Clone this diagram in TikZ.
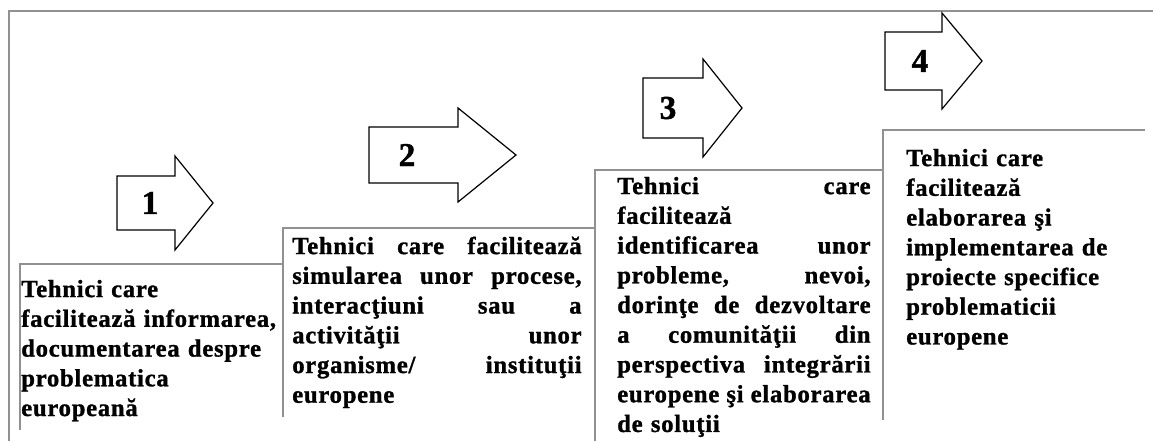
\documentclass[tikz,border=0pt]{standalone}
\usepackage{fontspec}
\setmainfont{Liberation Serif}[LetterSpace=3,BoldFont={Liberation Serif Bold},
  BoldFeatures={FakeBold=1.2}]
\usepackage{tikz}

\definecolor{gri}{RGB}{145,145,145}
% rand justificat pe toata latimea casetei
\newcommand{\jl}[1]{\leavevmode\hbox to \hsize{\spaceskip=0.25em plus 3em minus 0.05em #1}}

\begin{document}
\begin{tikzpicture}[x=0.75pt,y=-0.75pt,
  cadru/.style={draw=gri,line width=2pt},
  flecha/.style={draw=black,line width=0.9pt,fill=white,line join=miter},
  numar/.style={inner sep=0pt,font=\fontsize{25pt}{28pt}\selectfont\bfseries},
  caseta/.style={anchor=north west,inner sep=0pt,align=left,
    font=\fontsize{18.5pt}{22.3pt}\selectfont\bfseries}]
\useasboundingbox (0,0) rectangle (1153,441);

%cadrul exterior (doar sus si stanga)
\draw [cadru] (1153,11) -- (9,11) -- (9,441);

%treptele: linia de sus si linia din stanga a fiecarei casete
\draw [cadru] (283,264) -- (20,264) -- (20,430);
\draw [cadru] (595,228) -- (283,228) -- (283,417);
\draw [cadru] (883,170) -- (595,170) -- (595,441);
\draw [cadru] (1145,130) -- (883,130) -- (883,420);

%sagetile cu numerele lor
\foreach \n/\xa/\xb/\xt/\yc/\hb/\hh/\xn in {1/117/175/213/203/27/47/150,
    2/369/458/516/155/28/47/407, 3/643/703/742/108/30/49/668,
    4/885/942/982/61/29/48/920}
{
  \draw [flecha] (\xa,{\yc-\hb}) -- (\xb,{\yc-\hb}) -- (\xb,{\yc-\hh})
    -- (\xt,\yc) -- (\xb,{\yc+\hh}) -- (\xb,{\yc+\hb}) -- (\xa,{\yc+\hb}) -- cycle;
  \node [numar] (n\n) at (\xn,\yc) {\n};
}

%textele din casete
\node [caseta,text width=196pt] (t1) at (21,276) {\strut Tehnici care\\
  facilitează informarea,\\ documentarea despre\\ problematica\\ europeană};
\node [caseta,text width=217pt] (t2) at (292,233) {\strut\jl{Tehnici care facilitează}\\
  \jl{simularea unor procese,}\\ \jl{interacţiuni sau a}\\ \jl{activităţii unor}\\
  \jl{organisme/ instituţii}\\ europene};
\node [caseta,text width=190pt] (t3) at (617,173) {\strut\jl{Tehnici care}\\
  facilitează\\ \jl{identificarea unor}\\ \jl{probleme, nevoi,}\\
  \jl{dorinţe de dezvoltare}\\ \jl{a comunităţii din}\\ \jl{perspectiva integrării}\\
  \jl{europene şi elaborarea}\\ de soluţii};
\node [caseta,text width=180pt] (t4) at (906,145) {\strut Tehnici care\\
  facilitează\\ elaborarea şi\\ implementarea de\\ proiecte specifice\\
  problematicii\\ europene};
\end{tikzpicture}
\end{document}
